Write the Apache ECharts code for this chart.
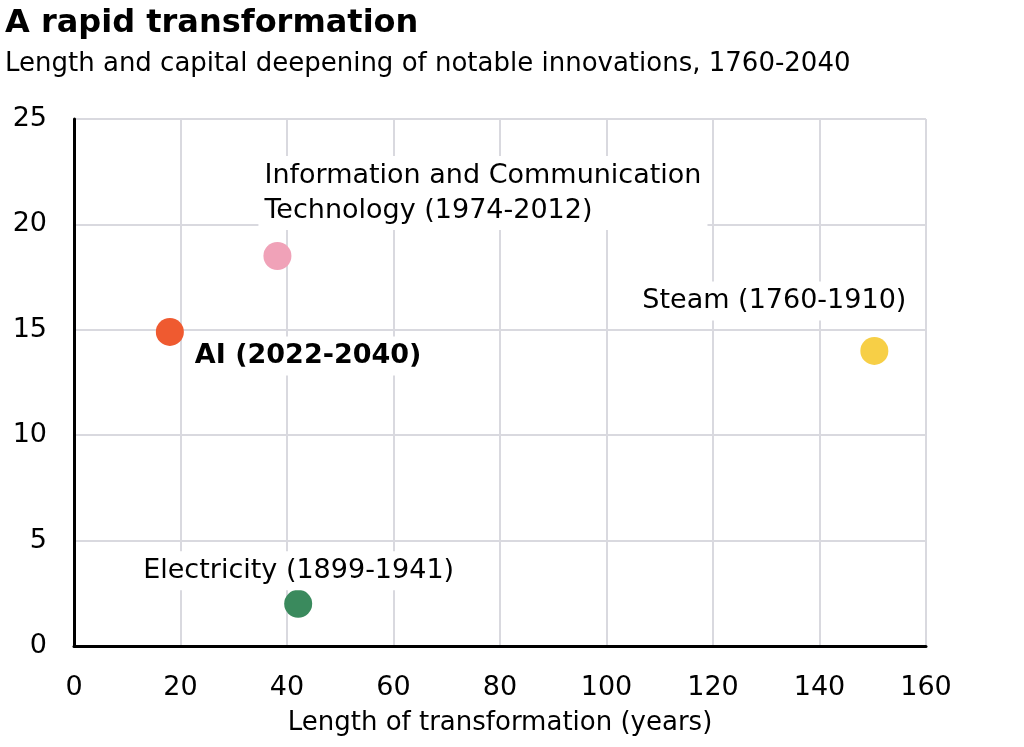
<!DOCTYPE html>
<html>
<head>
<meta charset="utf-8">
<script src="https://cdn.jsdelivr.net/npm/echarts@6/dist/echarts.min.js"></script>
<style>
  html, body { margin: 0; padding: 0; background: #fff; }
  #chart { width: 1024px; height: 747px; }
</style>
</head>
<body>
<div id="chart"></div>
<script>
// data
const innovations = ['AI (2022-2040)', 'Information and Communication\nTechnology (1974-2012)', 'Steam (1760-1910)', 'Electricity (1899-1941)'];
const lengthYears = [18, 38.2, 150.3, 42.1];
const capitalDeepening = [14.9, 18.5, 14.0, 2.0];

// styling per point
const dotColors = ['#ef5a30', '#f0a2b8', '#f7cf46', '#3a8a5d'];
const labelAlign = ['left', 'left', 'right', 'left'];
const labelOffset = [[19, 24], [-19, -63], [38, -50], [-161, -33]];
const labelBold = [true, false, false, false];

const FONT = '"DejaVu Sans", sans-serif';

const chart = echarts.init(document.getElementById('chart'));

const points = innovations.map(function (name, i) {
    return {
        name: name,
        value: [lengthYears[i], capitalDeepening[i]],
        itemStyle: { color: dotColors[i], opacity: 1 },
        label: {
            show: true,
            position: 'inside',
            formatter: name,
            align: labelAlign[i],
            verticalAlign: 'middle',
            offset: labelOffset[i],
            color: '#000',
            fontFamily: FONT,
            fontSize: 27,
            fontWeight: labelBold[i] ? 'bold' : 'normal',
            lineHeight: 35,
            backgroundColor: '#fff',
            padding: [2, 6]
        }
    };
});

const option = {
    animation: false,
    backgroundColor: '#fff',
    title: {
        text: 'A rapid transformation',
        subtext: 'Length and capital deepening of notable innovations, 1760-2040',
        left: 0,
        top: 3,
        itemGap: 11,
        textStyle: { fontFamily: FONT, fontSize: 32, fontWeight: 'bold', color: '#000' },
        subtextStyle: { fontFamily: FONT, fontSize: 26, color: '#000' }
    },
    grid: { left: 74, right: 98, top: 119, bottom: 101 },
    xAxis: {
        type: 'value',
        min: 0,
        max: 160,
        interval: 20,
        name: 'Length of transformation (years)',
        nameLocation: 'middle',
        nameGap: 64,
        nameTextStyle: { fontFamily: FONT, fontSize: 26, color: '#000' },
        axisLine: { show: true, lineStyle: { color: '#000', width: 3 } },
        axisTick: { show: false },
        axisLabel: { fontFamily: FONT, fontSize: 27, color: '#000', margin: 28 },
        splitLine: { show: true, lineStyle: { color: '#d9d9df', width: 2 } }
    },
    yAxis: {
        type: 'value',
        min: 0,
        max: 25,
        interval: 5,
        axisLine: { show: true, lineStyle: { color: '#000', width: 3 } },
        axisTick: { show: false },
        axisLabel: { fontFamily: FONT, fontSize: 27, color: '#000', margin: 27 },
        splitLine: { show: true, lineStyle: { color: '#d9d9df', width: 2 } }
    },
    series: [{
        type: 'scatter',
        symbolSize: 28,
        data: points,
        z: 5
    }]
};

chart.setOption(option);
</script>
</body>
</html>
